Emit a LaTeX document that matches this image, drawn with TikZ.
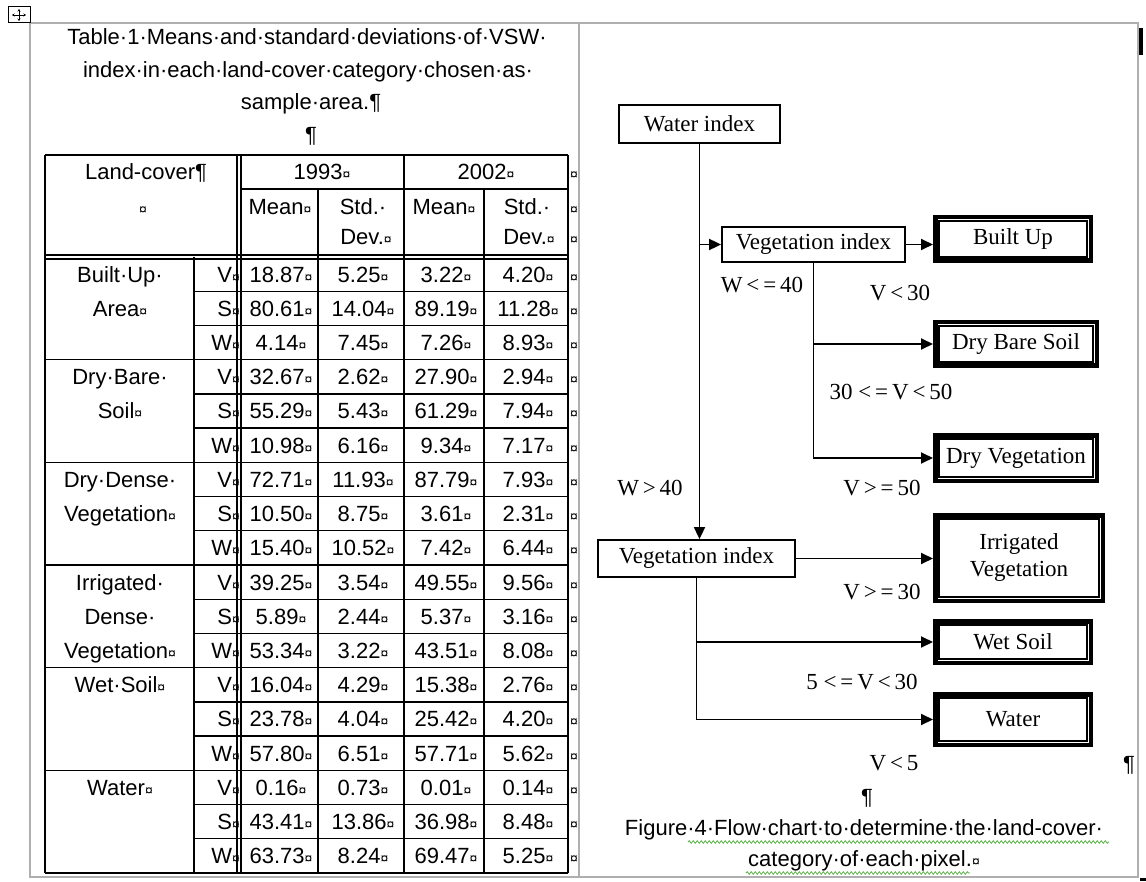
\documentclass[tikz,border=0pt]{standalone}
\usepackage{fontspec}
\setmainfont{Liberation Serif}
\newfontfamily\arialf{Liberation Sans}
\usetikzlibrary{arrows.meta,decorations.pathmorphing,calc}
\definecolor{wavegreen}{RGB}{90,180,70}
\definecolor{framegray}{RGB}{175,175,175}
\newcommand\cmark{{\fontsize{14}{14}\selectfont ¤}}
\begin{document}
\begin{tikzpicture}[x=1pt,y=-1pt,
  tbl/.style={line width=1.3pt, draw=black},
  pageframe/.style={line width=1.2pt, draw=framegray},
  txt/.style={font={\arialf\fontsize{22}{26}\selectfont}, inner sep=0pt, anchor=base},
  fbox/.style={draw, line width=1.8pt, font={\fontsize{23}{27}\selectfont}, inner sep=0pt, align=center},
  dbox/.style={draw, line width=4.5pt, font={\fontsize{23}{27}\selectfont}, inner sep=0pt, align=center},
  inbox/.style={draw, line width=1.8pt},
  arr/.style={line width=1.8pt, -{Triangle[length=12pt,width=11pt]}},
  lab/.style={font={\fontsize{23}{27}\selectfont}, inner sep=0pt},
  wavy/.style={draw=wavegreen, line width=0.8pt, decorate, decoration={snake, amplitude=1.3pt, segment length=4pt}}
]
\fill[white] (0,0) rectangle (1146,882);
\useasboundingbox (0,0) rectangle (1146,882);

% page / table frame
\draw[pageframe] (30,23) -- (1138,23) -- (1138,877) -- (30,877) -- cycle;
\draw[pageframe] (579,23) -- (579,877);
% move handle
\draw[line width=1pt] (8,7) rectangle (30,23);
\draw[line width=0.9pt, {Stealth[length=2.5pt,width=3pt]}-{Stealth[length=2.5pt,width=3pt]}] (12,15) -- (26,15);
\draw[line width=0.9pt, {Stealth[length=2.5pt,width=3pt]}-{Stealth[length=2.5pt,width=3pt]}] (19,9) -- (19,21);
% right marks
\fill (1139,28) rectangle (1143,55);
\fill (1140,878) rectangle (1146,880.5);

% title
\node[txt] (t1) at (307,45) {Table·1·Means·and·standard·deviations·of·VSW·};
\node[txt] (t2) at (308,78) {index·in·each·land-cover·category·chosen·as·};
\node[txt] (t3) at (311,110) {sample·area.¶};
\node[txt] (t4) at (311,143) {¶};

% table grid
\draw[tbl] (45,155) -- (45,873);
\draw[tbl] (237,155) -- (237,873);
\draw[tbl] (241,155) -- (241,873);
\draw[tbl] (404,155) -- (404,873);
\draw[tbl] (568,155) -- (568,873);
\draw[tbl] (318,189) -- (318,873);
\draw[tbl] (484,189) -- (484,873);
\draw[tbl] (194,257) -- (194,873);
\draw[tbl] (45,155) -- (568,155);
\draw[tbl] (241,189) -- (568,189);
\draw[tbl] (45,255) -- (568,255);
\draw[tbl] (45,259) -- (568,259);
\draw[tbl, line width=2pt] (45,873) -- (568,873);
\foreach \k in {1,...,17}{
  \pgfmathsetmacro\yy{257+34.22*\k}
  \pgfmathtruncatemacro\g{mod(\k,3)}
  \ifnum\g=0 \draw[tbl] (45,\yy) -- (568,\yy); \else \draw[tbl] (194,\yy) -- (568,\yy); \fi
}

% header
\node[txt] (lc) at (146,180) {Land-cover¶};
\node[txt] (lcm) at (143,215) {\cmark};
\node[txt] (y93) at (322,180) {1993\cmark};
\node[txt] (y02) at (486,180) {2002\cmark};
\node[txt] (h1) at (280,215) {Mean\cmark};
\node[txt] (h2) at (363,215) {Std.·};
\node[txt] (h2b) at (366,245) {Dev.\cmark};
\node[txt] (h3) at (444,215) {Mean\cmark};
\node[txt] (h4) at (527,215) {Std.·};
\node[txt] (h4b) at (529,245) {Dev.\cmark};
\node[txt] (e1) at (574,180) {\cmark};
\node[txt] (e2) at (574,215) {\cmark};
\node[txt] (e3) at (574,245) {\cmark};

% data
\foreach \k/\v/\a/\b/\c/\d in {
0/V/18.87/5.25/3.22/4.20,
1/S/80.61/14.04/89.19/11.28,
2/W/4.14/7.45/7.26/8.93,
3/V/32.67/2.62/27.90/2.94,
4/S/55.29/5.43/61.29/7.94,
5/W/10.98/6.16/9.34/7.17,
6/V/72.71/11.93/87.79/7.93,
7/S/10.50/8.75/3.61/2.31,
8/W/15.40/10.52/7.42/6.44,
9/V/39.25/3.54/49.55/9.56,
10/S/5.89/2.44/5.37/3.16,
11/W/53.34/3.22/43.51/8.08,
12/V/16.04/4.29/15.38/2.76,
13/S/23.78/4.04/25.42/4.20,
14/W/57.80/6.51/57.71/5.62,
15/V/0.16/0.73/0.01/0.14,
16/S/43.41/13.86/36.98/8.48,
17/W/63.73/8.24/69.47/5.25}{
  \pgfmathsetmacro\yy{257+34.22*(\k+0.5)+8}
  \node[txt, anchor=base east] (v\k) at (240,\yy) {\v\cmark};
  \node[txt] (ma\k) at (281,\yy) {\a\cmark};
  \node[txt] (sa\k) at (363,\yy) {\b\cmark};
  \node[txt] (mb\k) at (446,\yy) {\c\cmark};
  \node[txt] (sb\k) at (528,\yy) {\d\cmark};
  \node[txt] (en\k) at (574,\yy) {\cmark};
}
\foreach \k/\t in {0/Built·Up·, 1/Area\cmark, 3/Dry·Bare·, 4/Soil\cmark, 6/Dry·Dense·,
  7/Vegetation\cmark, 9/Irrigated·, 10/Dense·, 11/Vegetation\cmark, 12/Wet·Soil\cmark, 15/Water\cmark}{
  \pgfmathsetmacro\yy{257+34.22*(\k+0.5)+8}
  \node[txt] (cat\k) at (120,\yy) {\t};
}

% flow chart
\node[fbox, minimum width=161pt, minimum height=38pt] (wi) at (699.5,124) {Water index};
\node[fbox, minimum width=183pt, minimum height=35pt] (vi1) at (813.5,244.5) {Vegetation index};
\node[fbox, minimum width=197pt, minimum height=37pt] (vi2) at (696.5,558.5) {Vegetation index};
\node[dbox, minimum width=155.5pt, minimum height=43.5pt] (bu) at (1013,239) {Built Up};
\node[dbox, minimum width=161.5pt, minimum height=43.5pt] (dbs) at (1016,344) {Dry Bare Soil};
\node[dbox, minimum width=161.5pt, minimum height=45.5pt] (dv) at (1016,458) {Dry Vegetation};
\node[dbox, minimum width=167.5pt, minimum height=85.5pt] (iv) at (1019,558) {Irrigated\\Vegetation};
\node[dbox, minimum width=155.5pt, minimum height=41.5pt] (ws) at (1013,642) {Wet Soil};
\node[dbox, minimum width=155.5pt, minimum height=50.5pt] (wt) at (1013,719.5) {Water};
\foreach \n in {bu,dbs,dv,iv,ws,wt}
  \draw[inbox] ([shift={(6,6)}]\n.north west) rectangle ([shift={(-6,-6)}]\n.south east);

\draw[arr] (wi.south) -- (wi.south |- vi2.north);
\draw[arr] (wi.south |- vi1.west) -- (vi1.west);
\draw[arr] (vi1.east) -- (vi1.east -| bu.west);
\draw[arr] (vi1.south) |- (dv.west);
\draw[arr] (vi1.south |- dbs.west) -- (dbs.west);
\draw[arr] (vi2.east) -- (vi2.east -| iv.west);
\draw[arr] (vi2.south) |- (wt.west);
\draw[arr] (vi2.south |- ws.west) -- (ws.west);

\node[lab] (l1) at (762,285) {W\,<\,=\,40};
\node[lab] (l2) at (900,293) {V\,<\,30};
\node[lab] (l3) at (891,392) {30 <\,=\,V\,<\,50};
\node[lab] (l4) at (882,488) {V\,>\,=\,50};
\node[lab] (l5) at (650,488) {W\,>\,40};
\node[lab] (l6) at (882,592) {V\,>\,=\,30};
\node[lab] (l7) at (862,682) {5 <\,=\,V\,<\,30};
\node[lab] (l8) at (894,763) {V\,<\,5};
\node[txt, anchor=center] (p1) at (1129,765) {¶};
\node[txt, anchor=center] (p2) at (867,798) {¶};

% caption
\node[txt] (c1) at (864,835) {Figure·4·Flow·chart·to·determine·the·land-cover·};
\node[txt] (c2) at (864,866) {category·of·each·pixel.\cmark};
\draw[wavy] (688,842) -- (1109,842);
\draw[wavy] (746,873) -- (970,873);
\end{tikzpicture}
\end{document}
